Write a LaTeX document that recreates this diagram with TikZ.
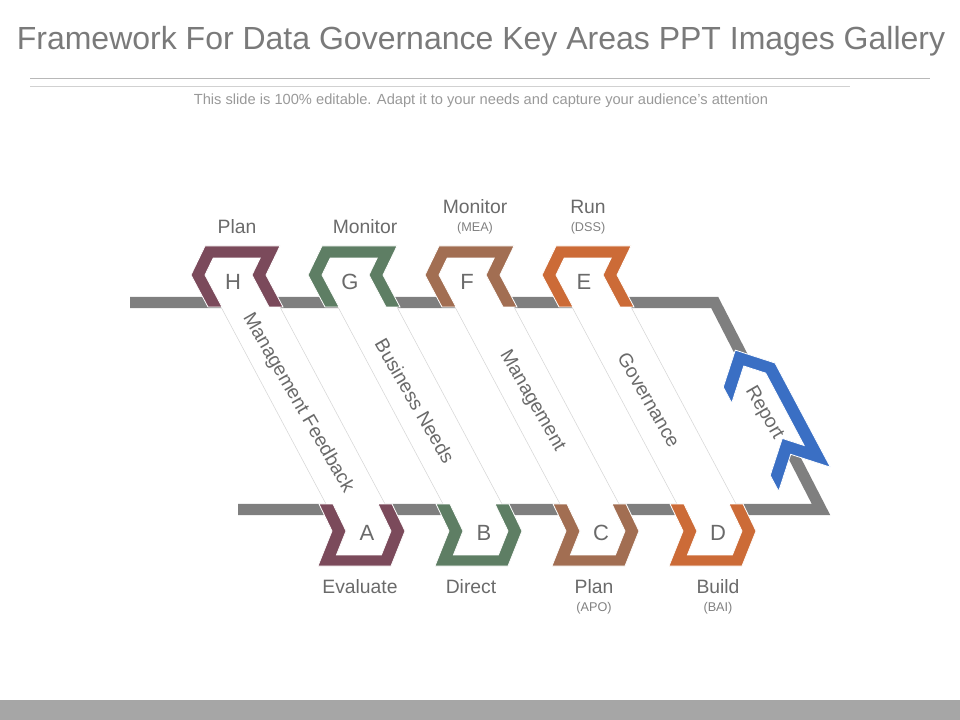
\documentclass[tikz,border=0pt]{standalone}
\usepackage{fontspec}
\setmainfont{Liberation Sans}
\usetikzlibrary{positioning}

\definecolor{plum}{HTML}{7B4A5B}
\definecolor{sage}{HTML}{5E7E64}
\definecolor{clay}{HTML}{A26E52}
\definecolor{rust}{HTML}{CC6B37}
\definecolor{royal}{HTML}{3A6FC4}
\definecolor{track}{HTML}{7F7F7F}
\definecolor{ink}{HTML}{6A6A6A}

% top chevron frame, #1,#2 = outer top left corner, #3 = colour
\newcommand{\topchev}[3]{%
  \begin{scope}[shift={(#1,#2)}]
    \fill[white] (0,0) -- (75,0) -- (61,29) -- (78,61) -- (3,61) -- (-14,29) -- cycle;
    \fill[#3, draw=white, line width=0.6pt] (0,0) -- (75,0) -- (61,29) -- (78,61) -- (64,61)
      -- (47,29) -- (55.2,12) -- (8.2,12) -- (0,29) -- (17,61) -- (3,61) -- (-14,29) -- cycle;
  \end{scope}}
% bottom chevron frame
\newcommand{\botchev}[3]{%
  \begin{scope}[shift={(#1,#2)}]
    \fill[white] (0,0) -- (73,0) -- (86,27) -- (72,62) -- (-1,62) -- (13,27) -- cycle;
    \fill[#3, draw=white, line width=0.6pt] (0,0) -- (14,0) -- (27,27) -- (17.4,51) -- (62.4,51)
      -- (72,27) -- (59,0) -- (73,0) -- (86,27) -- (72,62) -- (-1,62) -- (13,27) -- cycle;
  \end{scope}}
% white band from a top chevron down to its bottom chevron
\newcommand{\band}[1]{%
  \fill[white] (#1+16,307) -- (#1+75,307) -- (#1+180,504) -- (#1+121,504) -- cycle;
  \draw[black!16] (#1+16,307) -- (#1+121,504) (#1+75,307) -- (#1+180,504);}

\begin{document}
\begin{tikzpicture}[
    x=0.75pt, y=-0.75pt,
    title/.style={text=black!52, font=\fontsize{24}{28}\selectfont, inner sep=0, anchor=base},
    subtitle/.style={text=black!40, font=\fontsize{11}{13}\selectfont, inner sep=0, anchor=base},
    label/.style={text=ink, font=\fontsize{14.5}{16}\selectfont, inner sep=0},
    sublabel/.style={text=ink!85, font=\fontsize{9.5}{11}\selectfont, inner sep=0},
    letter/.style={text=ink, font=\fontsize{16.5}{18}\selectfont, inner sep=0},
    bandtext/.style={text=ink, font=\fontsize{14.5}{16}\selectfont, inner sep=0, rotate=-60}
  ]
  \useasboundingbox (0,0) rectangle (960,720);
  \fill[black!35] (0,700) rectangle (960,720);

  \node[title] (heading) at (481,50) {Framework For Data Governance Key Areas PPT Images Gallery};
  \draw[black!28] (30,78) -- (930,78);
  \draw[black!18] (30,86) -- (850,86);
  \node[subtitle] (note) at (481,105) {This slide is 100\% editable. Adapt it to your needs and capture your audience's attention};

  % grey track
  \draw[track, line width=8.5pt, line join=miter] (130,302.5) -- (714.7,302.5) -- (821,509.5) -- (238,509.5);

  \band{205} \band{322} \band{439} \band{556}

  \topchev{205}{246}{plum} \topchev{322}{246}{sage}
  \topchev{439}{246}{clay} \topchev{556}{246}{rust}
  \botchev{319}{504}{plum} \botchev{436}{504}{sage}
  \botchev{553}{504}{clay} \botchev{670}{504}{rust}

  % report chevron on the slanted part of the track
  \begin{scope}[shift={(775,363)}, rotate=-62]
    \fill[white] (0,0) -- (118,0) -- (88,29) -- (115,57) -- (-3,57) -- (-30,29) -- cycle;
    \fill[royal, draw=white, line width=0.6pt] (0,0) -- (118,0) -- (88,29) -- (115,57) -- (97,57)
      -- (70,29) -- (86.55,13) -- (4.55,13) -- (-12,29) -- (15,57) -- (-3,57) -- (-30,29) -- cycle;
  \end{scope}

  \node[letter] (h) at (233,282) {H};
  \node[letter] (g) at (350,282) {G};
  \node[letter] (f) at (467,282) {F};
  \node[letter] (e) at (584,282) {E};
  \node[letter] (a) at (367,533) {A};
  \node[letter] (b) at (484,533) {B};
  \node[letter] (c) at (601,533) {C};
  \node[letter] (d) at (718,533) {D};

  \node[label] (planh) at (237,227) {Plan};
  \node[label] (monitorg) at (365,227) {Monitor};
  \node[label] (monitorf) at (475,207) {Monitor};
  \node[sublabel] (mea) at (475,228) {(MEA)};
  \node[label] (rune) at (588,207) {Run};
  \node[sublabel] (dss) at (588,228) {(DSS)};
  \node[label] (evaluatea) at (360,587) {Evaluate};
  \node[label] (directb) at (471,587) {Direct};
  \node[label] (planc) at (594,587) {Plan};
  \node[sublabel] (apo) at (594,608) {(APO)};
  \node[label] (buildd) at (718,587) {Build};
  \node[sublabel] (bai) at (718,608) {(BAI)};

  \node[bandtext] (feedback) at (298,403) {Management Feedback};
  \node[bandtext] (needs) at (415,401) {Business Needs};
  \node[bandtext] (mgmt) at (532,401) {Management};
  \node[bandtext] (gov) at (649,400) {Governance};
  \node[bandtext] (report) at (764,413) {Report};
\end{tikzpicture}
\end{document}
